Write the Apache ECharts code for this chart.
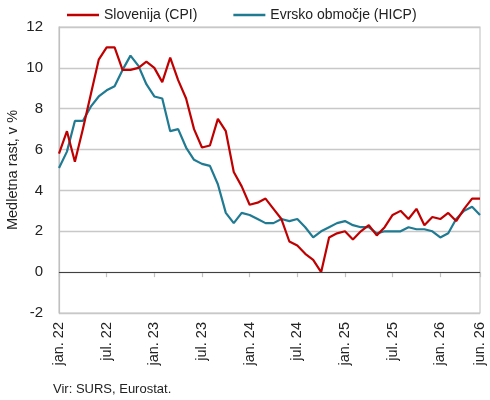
<!DOCTYPE html>
<html>
<head>
<meta charset="utf-8">
<script src="https://cdn.jsdelivr.net/npm/echarts@6/dist/echarts.min.js"></script>
<style>
html,body{margin:0;padding:0;background:#fff;}
#c{width:490px;height:400px;}
</style>
</head>
<body>
<div id="c"></div>
<script>
var monthNames = ['jan.','feb.','mar.','apr.','maj','jun.','jul.','avg.','sep.','okt.','nov.','dec.'];
var years = ['22','23','24','25','26'];
var categories = [];
years.forEach(function(y){ monthNames.forEach(function(m){ categories.push(m + ' ' + y); }); });
categories = categories.slice(0, 54); // jan. 22 … jun. 26

var sloveniaCPI = [
  5.8, 6.9, 5.4, 7.0, 8.7, 10.4, 11.0, 11.0, 9.9, 9.9, 10.0, 10.3,
  10.0, 9.3, 10.5, 9.4, 8.5, 7.0, 6.1, 6.2, 7.5, 6.9, 4.9, 4.2,
  3.3, 3.4, 3.6, 3.1, 2.6, 1.5, 1.3, 0.9, 0.6, 0.0, 1.7, 1.9,
  2.0, 1.6, 2.0, 2.3, 1.8, 2.2, 2.8, 3.0, 2.6, 3.1, 2.3, 2.7,
  2.6, 2.9, 2.5, 3.1, 3.6, 3.6
];
var euroHICP = [
  5.1, 5.9, 7.4, 7.4, 8.1, 8.6, 8.9, 9.1, 9.9, 10.6, 10.1, 9.2,
  8.6, 8.5, 6.9, 7.0, 6.1, 5.5, 5.3, 5.2, 4.3, 2.9, 2.4, 2.9,
  2.8, 2.6, 2.4, 2.4, 2.6, 2.5, 2.6, 2.2, 1.7, 2.0, 2.2, 2.4,
  2.5, 2.3, 2.2, 2.2, 1.9, 2.0, 2.0, 2.0, 2.2, 2.1, 2.1, 2.0,
  1.7, 1.9, 2.6, 3.0, 3.2, 2.8
];
var seriesNames = ['Slovenija (CPI)', 'Evrsko območje (HICP)'];
var yTicks = { min: -2, max: 12, interval: 2 };
var sourceText = 'Vir: SURS, Eurostat.';
var yAxisTitle = 'Medletna rast, v %';

var FONT = 'Liberation Sans';
var lastIdx = categories.length - 1;
function shown(i){ return i % 6 === 0 || i === lastIdx; }

var chart = echarts.init(document.getElementById('c'), null, {renderer:'canvas'});
chart.setOption({
  animation: false,
  backgroundColor: '#fff',
  textStyle: { fontFamily: FONT },
  grid: { left: 59, right: 10, top: 27, bottom: 87, containLabel: false, outerBoundsMode: 'none',
          show: true, borderColor: '#c8c8c8', borderWidth: 1.2 },
  legend: {
    top: 3, left: 62,
    itemWidth: 32, itemHeight: 2.5, itemGap: 36,
    icon: 'rect',
    textStyle: { fontSize: 14, color: '#222', fontFamily: FONT },
    data: seriesNames
  },
  xAxis: {
    type: 'category',
    data: categories,
    boundaryGap: false,
    axisLine: { show: true, lineStyle: { color: '#c0c0c0', width: 1.2 } },
    axisTick: { show: true, length: 5, interval: function(i){ return shown(i); }, lineStyle: { color: '#c0c0c0', width: 1.2 } },
    axisLabel: { rotate: 90, interval: function(i){ return shown(i); }, fontSize: 14.5, color: '#222', margin: 9, fontFamily: FONT },
    splitLine: { show: false }
  },
  yAxis: {
    type: 'value',
    min: yTicks.min, max: yTicks.max, interval: yTicks.interval,
    name: yAxisTitle,
    nameLocation: 'middle',
    nameGap: 39,
    nameMoveOverlap: false,
    nameTextStyle: { fontSize: 14.5, color: '#222', fontFamily: FONT },
    axisLine: { show: true, lineStyle: { color: '#c0c0c0', width: 1.2 } },
    axisTick: { show: false },
    axisLabel: { fontSize: 15, color: '#222', margin: 16, fontFamily: FONT },
    splitLine: { show: true, lineStyle: { color: '#c8c8c8', width: 1.4 } }
  },
  series: [
    {
      name: seriesNames[0], type: 'line', data: sloveniaCPI,
      symbol: 'none', color: '#C00000',
      lineStyle: { width: 2.2, color: '#C00000' },
      z: 3,
      markLine: {
        silent: true, symbol: 'none', label: { show: false },
        lineStyle: { color: '#404040', width: 1.2, type: 'solid' },
        data: [{ yAxis: 0 }]
      }
    },
    {
      name: seriesNames[1], type: 'line', data: euroHICP,
      symbol: 'none', color: '#1F7A92',
      lineStyle: { width: 2.2, color: '#1F7A92' },
      z: 2
    }
  ],
  graphic: [
    { type: 'text', left: 53, top: 383, style: { text: sourceText, fontSize: 13, fill: '#222', fontFamily: FONT } }
  ]
});
</script>
</body>
</html>
